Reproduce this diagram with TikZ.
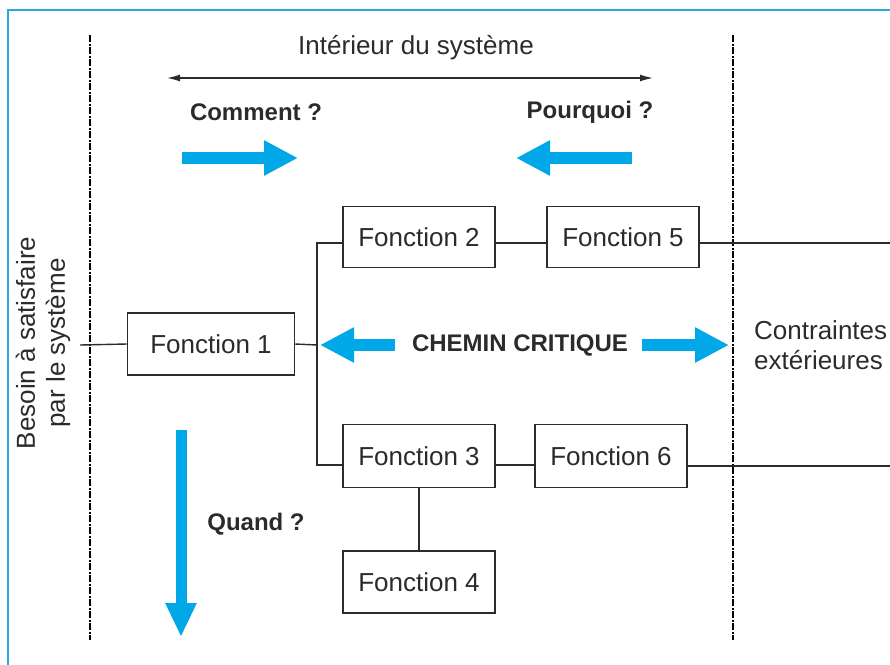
\documentclass[tikz,border=0pt]{standalone}
\usepackage{fontspec}
\setmainfont{Liberation Sans}
\usetikzlibrary{arrows.meta}
\definecolor{arrowblue}{HTML}{00A8E8}
\definecolor{frameblue}{HTML}{2AA9E0}
\definecolor{ink}{HTML}{2B2B2B}
\begin{document}
\begin{tikzpicture}[x=1pt,y=-1pt,
  fbox/.style={draw=ink, line width=1.5pt, fill=white, minimum width=152pt,
    minimum height=61pt, inner sep=0pt, font=\fontsize{26}{30}\selectfont, text=ink},
  link/.style={draw=ink, line width=1.4pt},
  lbl/.style={font=\fontsize{26}{30}\selectfont, text=ink, inner sep=0pt},
  blbl/.style={font=\bfseries\fontsize{24}{28}\selectfont, text=ink, inner sep=0pt},
  boundary/.style={draw=black, line width=2.6pt, dash pattern=on 7pt off 1.5pt on 2pt off 1.5pt},
  bigarrow/.style={draw=arrowblue, line width=12pt,
    -{Triangle[length=34pt,width=33pt]}},
]
\useasboundingbox (0,0) rectangle (890,664);

% outer frame
\draw[frameblue, line width=2pt] (8,670) -- (8,10) -- (895,10);

% system boundaries
\coordinate (lt) at (90,35);   \coordinate (lb) at (90,640);
\coordinate (rt) at (733,35);  \coordinate (rb) at (733,640);
\draw[boundary] (lt) -- (lb);
\draw[boundary] (rt) -- (rb);

% header
\node[lbl] (interieur) at (416,48) {Intérieur du système};
\coordinate (hl) at (167,78); \coordinate (hr) at (653,78);
\draw[ink, line width=1.4pt, {Latex[length=13pt,width=7pt]}-{Latex[length=13pt,width=7pt]}] (hl) -- (hr);
\node[blbl] (comment) at (256,112) {Comment ?};
\node[blbl] (pourquoi) at (590,112) {Pourquoi ?};
\coordinate (c1) at (182,158); \coordinate (c2) at (298,158);
\coordinate (p1) at (632,158); \coordinate (p2) at (516,158);
\draw[bigarrow] (c1) -- (c2);
\draw[bigarrow] (p1) -- (p2);

% function blocks
\node[fbox, minimum width=167pt, minimum height=62pt] (f1) at (211,344) {Fonction 1};
\node[fbox] (f2) at (419,237) {Fonction 2};
\node[fbox] (f5) at (623,237) {Fonction 5};
\node[fbox, minimum height=63pt] (f3) at (419,456) {Fonction 3};
\node[fbox, minimum height=63pt] (f6) at (611,456) {Fonction 6};
\node[fbox, minimum height=62pt] (f4) at (419,582) {Fonction 4};

% links between blocks
\coordinate (need) at (80,345);
\coordinate (fork) at (317,345);
\coordinate (out5) at (900,243);
\coordinate (out6) at (900,466);
\draw[link] (need) -- (f1.west);
\draw[link] (f1.east) -- (fork);
\draw[link] ([yshift=-6pt]f2.west) -| (fork) |- ([yshift=-9pt]f3.west);
\draw[link] ([yshift=-6pt]f2.east) -- ([yshift=-6pt]f5.west);
\draw[link] ([yshift=-6pt]f5.east) -- (out5);
\draw[link] ([yshift=-9pt]f3.east) -- ([yshift=-9pt]f6.west);
\draw[link] ([yshift=-10pt]f6.east) -- (out6);
\draw[link] (f3.south) -- (f4.north);

% critical path
\node[blbl] (chemin) at (520,345) {CHEMIN CRITIQUE};
\coordinate (k1) at (395,345); \coordinate (k2) at (320,345);
\coordinate (k3) at (642,345); \coordinate (k4) at (729,345);
\draw[bigarrow] (k1) -- (k2);
\draw[bigarrow] (k3) -- (k4);

% time axis
\coordinate (q1) at (181,430); \coordinate (q2) at (181,637);
\draw[bigarrow, line width=11pt, -{Triangle[length=34pt,width=29pt]}] (q1) -- (q2);
\node[blbl] (quand) at (256,524) {Quand ?};

% side labels
\node[lbl, rotate=90, align=center] (besoin) at (43,343) {Besoin à satisfaire\\par le système};
\node[lbl, align=left, anchor=west] (contraintes) at (754,345) {Contraintes\\extérieures};
\end{tikzpicture}
\end{document}
